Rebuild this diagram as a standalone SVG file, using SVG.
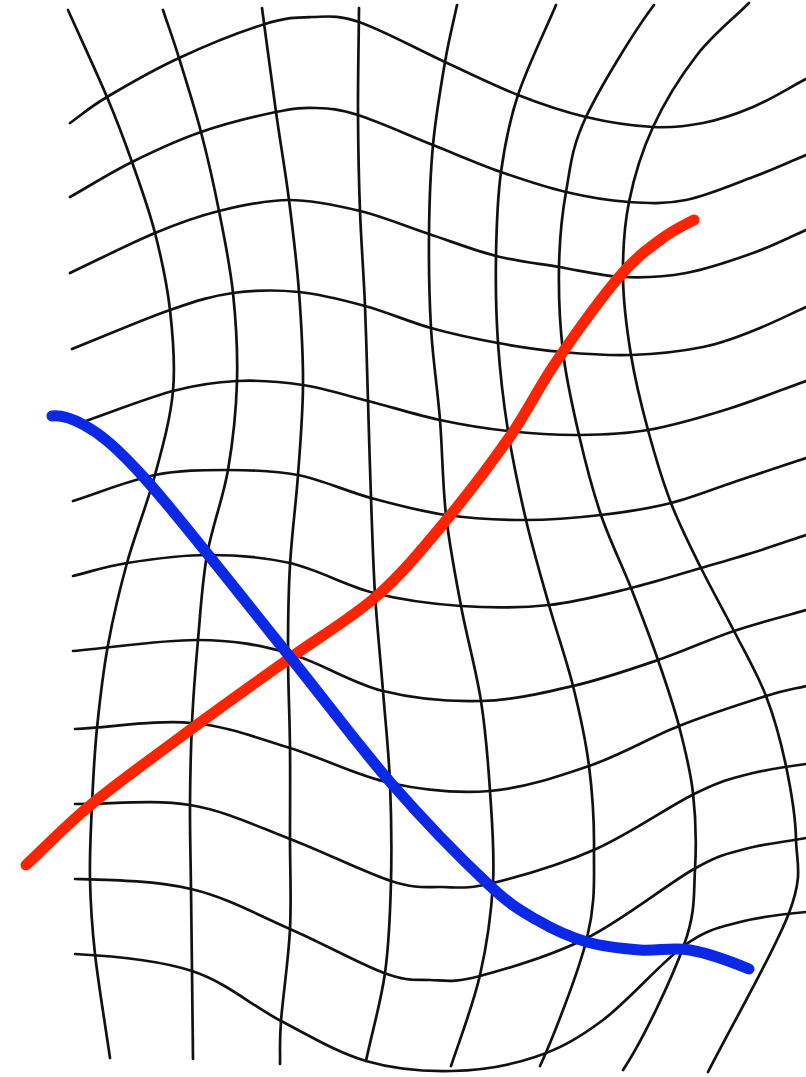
<svg xmlns="http://www.w3.org/2000/svg" width="806" height="1077" viewBox="0 0 806 1077">
<style>
.g{fill:none;stroke:#111;stroke-width:2.7;stroke-linecap:round;stroke-linejoin:round}
.c{fill:none;stroke-width:11;stroke-linecap:round;stroke-linejoin:round}
</style>
<rect width="806" height="1077" fill="#fff"/>
<g id="grid">
<g id="verticals">
<path id="v0" class="g" d="M68,10 C81,39 96.3,71.7 107,97 S124,139.3 132,162 S148.7,208.3 155,233 S167,283.7 170,310 S175.5,363.5 173,391 S162.7,446.3 155,475 S134.8,534.7 127,563 S113,617.5 108,645 S99.7,701.5 97,728 S93.2,778.8 92,804 S89.5,854 90,879 S91.7,924.2 95,954 S105,1023 110,1058"/>
<path id="v1" class="g" d="M163,10 C168.3,26 172.7,37.7 179,58 S194.3,106.5 201,132 S213.7,184.2 219,211 S230,264.7 233,293 S237.8,351.5 237,381 S233,441 228,470 S212,526.7 207,555 S200.5,612 198,640 S193.3,695.5 192,723 S190.2,777.3 190,805 S190.7,861.3 191,889 S191.7,942.7 192,971 S192.7,1030 193,1059"/>
<path id="v2" class="g" d="M262,8 C266.7,42.7 271.5,80 276,112 S285.2,170 289,200 S296.7,261.2 299,292 S303.2,354.5 303,385 S300.2,445 298,475 S291.7,535.3 290,565 S288,622.5 288,653 S289.7,717 290,748 S290,808.8 290,839 S291.5,898.7 290,929 S282.7,998.5 281,1021 S280.3,1050 280,1064"/>
<path id="v3" class="g" d="M359,8 C358.7,43.7 357.8,81.2 358,115 S358.8,179.2 360,211 S363.7,274.3 365,306 S367,369 368,401 S369.8,465.8 371,498 S373,561.8 375,594 S380.5,659.5 383,691 S388.7,751.3 390,783 S391.8,849.3 391,881 S389.2,943 385,973 S372,1032 366,1061"/>
<path id="v4" class="g" d="M457,5 C453,24 449,38.7 445,62 S435.7,116.3 433,145 S429.3,203.5 429,234 S429.2,297 431,328 S437.5,388.8 440,420 S442.5,484 446,515 S455.2,575 461,606 S476.2,670.2 481,701 S488,760.7 490,791 S494.7,852.3 493,883 S487,944.5 480,975 S461,1036 451,1066"/>
<path id="v5" class="g" d="M556,5 C543.3,35 527.2,67.2 518,95 S504.7,145.2 501,172 S496.5,227.5 496,256 S496,313.8 498,343 S503.3,401.5 508,431 S519.2,491 526,520 S541.2,577.3 549,605 S566.3,659.2 573,686 S585.5,738.8 589,766 S594.3,820.3 594,849 S596,901.8 587,938 S552,1040 540,1066"/>
<path id="v6" class="g" d="M654,5 C635,30 600.7,85.8 586,117 S570.5,167 566,192 S559.5,240.3 559,267 S559.7,324 563,352 S572.7,407.8 579,435 S592.3,489.5 601,515 S621.5,563.8 631,588 S650,637 658,660 S673.2,703.8 679,726 S690.3,769.2 693,793 S696.5,843.7 695,869 S696,911.5 684,945 S643,1040 623,1070"/>
<path id="v7" class="g" d="M749,3 C732,20 713,34.3 697,55 S664.3,102.5 653,127 S634,177 629,202 S622.7,251.5 623,277 S626.8,329.5 631,355 S641.3,405.3 648,430 S662.2,480 671,503 S690.5,546.7 701,568 S723.2,609.7 734,631 S757.3,673.5 766,696 S781,742.2 786,766 S795.5,814.5 796,839 S803.7,874.2 789,913 S735,1019 708,1072"/>
</g>
<g id="horizontals">
<path id="h0" class="g" d="M70,123 C82.3,114.3 88.8,107.8 107,97 S152.7,70.2 179,58 S242.8,30.8 265,24 S296.3,17.3 312,17 S336.8,14.5 359,22 S418.5,49.8 445,62 S494.5,85.8 518,95 S563.5,111.7 586,117 S633.5,126 653,127 S686.3,126.3 703,123 S735.8,114.3 753,107 S788.3,88.3 806,79"/>
<path id="h1" class="g" d="M70,197 C90.7,185.3 110.2,172.8 132,162 S177,140.3 201,132 S256.8,116 276,112 S302.3,107.5 316,108 S338.5,108.8 358,115 S409.2,135.5 433,145 S478.8,164.2 501,172 S544.7,187 566,192 S609,200.7 629,202 S665.3,204.2 686,200 S733,184.5 753,177 S788.3,162.3 806,155"/>
<path id="h2" class="g" d="M70,273 C98.3,259.7 130.2,243.3 155,233 S196.7,216.5 219,211 S265.5,200 289,200 S336.7,205.3 360,211 S406.3,226.5 429,234 S474.3,250.5 496,256 S537.8,263.5 559,267 S601.8,276 623,277 S664.3,277 686,273 S733,260.2 753,253 S788.3,237.7 806,230"/>
<path id="h3" class="g" d="M72,349 C104.7,336 143.2,319.3 170,310 S211.5,296 233,293 S277,289.8 299,292 S343,300 365,306 S408.8,321.8 431,328 S476,339 498,343 S540.8,350 563,352 S607.7,355.8 631,355 S682.3,351.2 703,347 S737.8,336.7 755,330 S789,314.7 806,307"/>
<path id="h4" class="g" d="M80,423 C111,412.3 146.8,398 173,391 S215.3,382 237,381 S281.2,381.7 303,385 S345.2,395.2 368,401 S416.7,415 440,420 S484.8,428.5 508,431 S555.7,435.2 579,435 S623.2,434.3 648,430 S701.7,417.2 728,409 S780,390.3 806,381"/>
<path id="h5" class="g" d="M73,501 C100.3,492.3 129.2,480.2 155,475 S204.2,470 228,470 S274.2,470.3 298,475 S346.3,491.3 371,498 S420.2,511.3 446,515 S500.2,520 526,520 S576.8,517.8 601,515 S648.3,508.7 671,503 S714.5,488.5 737,481 S783,465.7 806,458"/>
<path id="h6" class="g" d="M73,576 C91,571.7 104.7,566.5 127,563 S179.8,555 207,555 S262.2,556.7 290,563 S345.5,585.8 374,593 S431.8,604 461,606 S520.7,608 549,605 S605.7,594.2 631,588 S680.3,574 701,568 S737.5,557.5 755,552 S789,540.7 806,535"/>
<path id="h7" class="g" d="M73,651 C114.7,647.3 162.2,639.7 198,640 S257.2,644.5 288,653 S350.8,683 383,691 S449.3,701.8 481,701 S543.5,692.8 573,686 S631.2,669.2 658,660 S709.3,639.3 734,631 S782,617 806,610"/>
<path id="h8" class="g" d="M75,729 C114,727 156.2,719.8 192,723 S257,738 290,748 S356.7,775.8 390,783 S456.8,793.8 490,791 S557.5,776.8 589,766 S649.5,737.7 679,726 S744.8,702.7 766,696 S792.7,689.3 806,686"/>
<path id="h9" class="g" d="M75,804 C113,804 154.2,799.2 190,805 S256.5,826.3 290,839 S365.7,873 391,881 S425,886.7 442,887 S467.3,889.3 493,883 S562.5,863.8 596,849 S669.2,806.3 694,794 S726.3,780 745,775 S786,766.7 806,764"/>
<path id="h10" class="g" d="M75,879 C113.7,880 155.2,880.7 191,889 S257.8,915 290,929 S360.7,964.5 384,973 S414,979.5 430,980 S453.8,983 480,976 S551.3,955.8 587,938 S667.7,883.8 694,869 S726.3,854.2 745,849 S786,841.7 806,838"/>
<path id="h11" class="g" d="M75,954 C114,956 157.7,959.8 192,971 S252,1006 281,1021 S337.5,1052.7 366,1061 S423.8,1071.7 452,1071 S509.8,1065.5 535,1057 S578,1038.7 603,1020 S662.2,961.3 685,945 S719.8,927.5 740,922 S784,914 806,912"/>
</g>
</g>
<g id="red-curve">
<path class="c" stroke="#ff2400" d="M26,865 C48,845 63.2,827.3 93,803 S172.2,743.2 205,719 S261.2,678.7 290,658 S351.7,618.3 378,595 S425.8,544.7 448,518 S493,461 511,435 S538,388.3 556,362 S601.7,297.3 619,277 S647.5,249.5 660,240 S682,226 694,220"/>
</g>
<g id="blue-curve">
<path class="c" stroke="#0a28e6" d="M52,416 C62,415 71,418 84,425 S113.7,443.3 148,482 S249.5,606.8 290,657 S358,745.2 391,783 S463.7,861.2 488,884 S520.5,910.3 537,920 S569.8,937 587,942 S622.8,948.7 640,950 S671.8,946.8 690,950 S732,962 749,969"/>
</g>
</svg>
